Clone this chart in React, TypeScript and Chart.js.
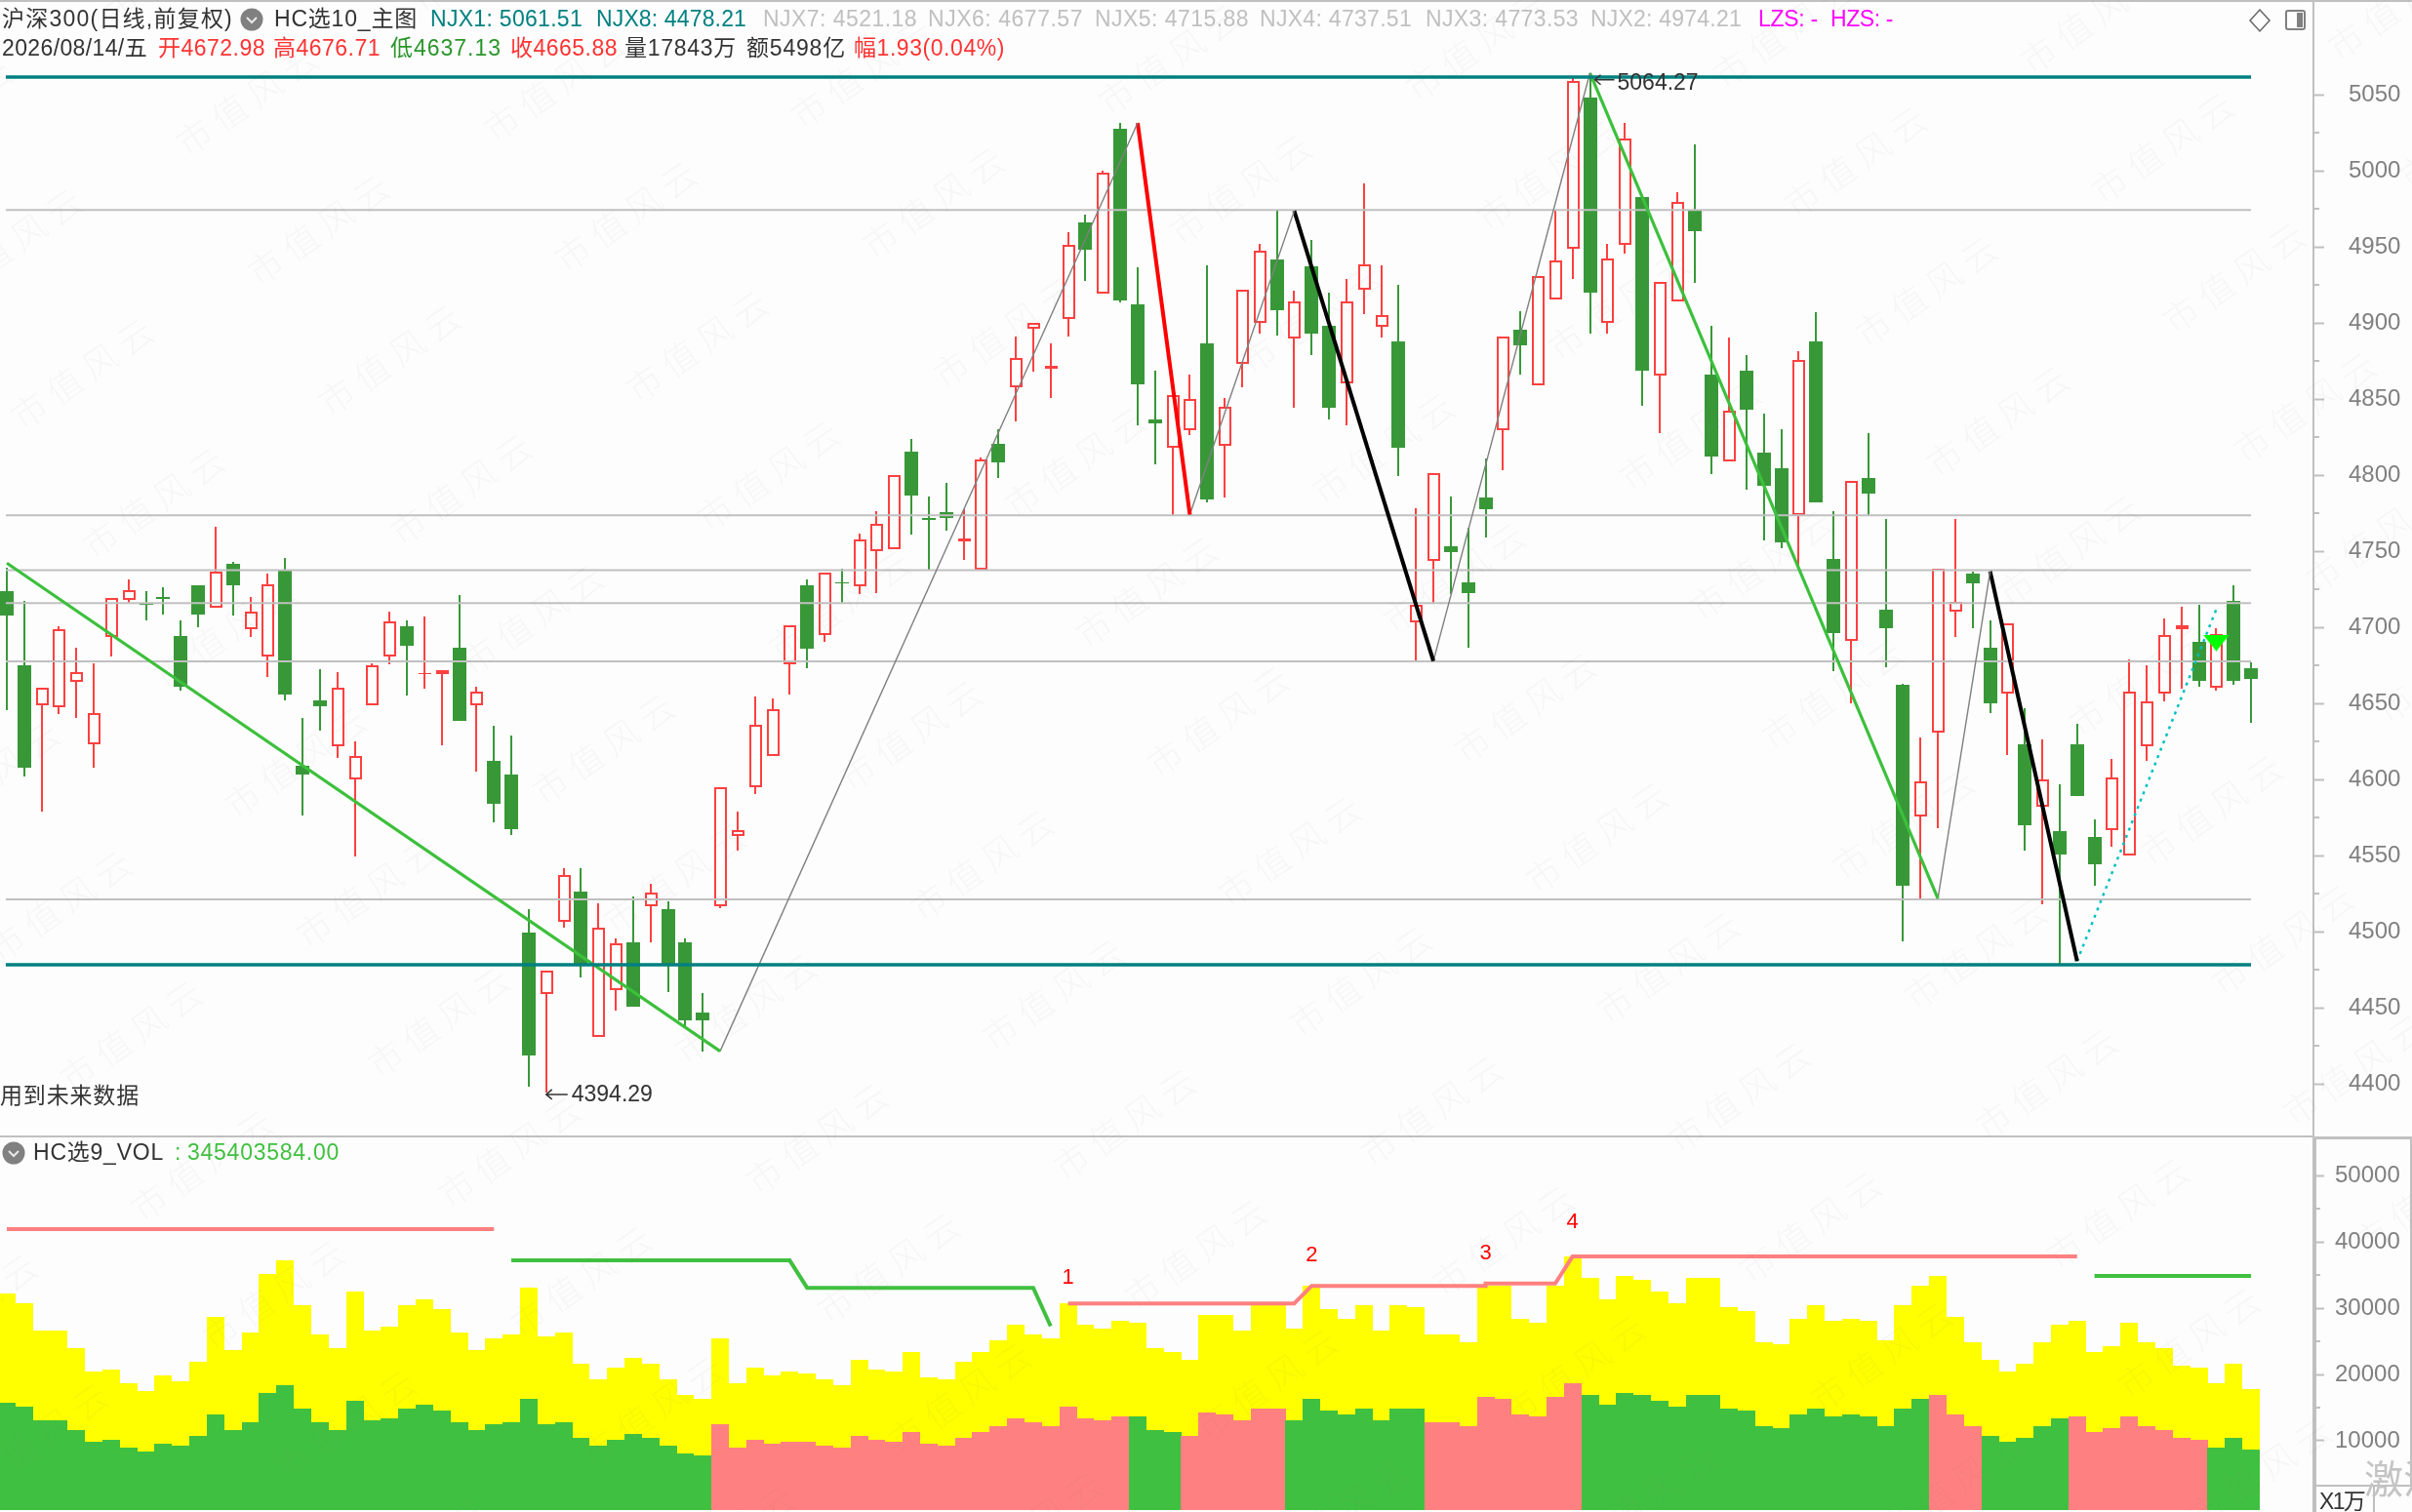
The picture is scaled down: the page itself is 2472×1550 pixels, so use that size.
import React, { useEffect, useRef } from 'react';
import { Chart, registerables } from 'chart.js';

Chart.register(...registerables);

const openPrices = [
  4723.9,4674.9,4648.5,4647.4,4664.1,4622.9,4693.6,4717.7,4715.8,4719.7,
  4694.4,4727.5,4712.7,4741.7,4698.8,4680.5,4736.9,4609.3,4651.9,4621.8,
  4599.9,4648.5,4680.5,4700.8,4669.1,4669.1,4686.6,4648.5,4612.1,4603.2,
  4499.5,4458.9,4506.5,4526.2,4430.8,4461.7,4492.8,4516.5,4514.8,4492.8,
  4446.7,4516.5,4562.6,4594.9,4615.4,4675.6,4727.6,4694.8,4729.8,4726.7,
  4749.8,4751.2,4815.7,4772.1,4775.7,4756.2,4737.9,4820.7,4857.7,4896.3,
  4870.2,4902.4,4965.8,4919.1,5027.5,4912.2,4836.6,4817.9,4829.3,4886.6,
  4819.0,4873.0,4899.7,4941.6,4889.7,4937.5,4898.0,4860.2,4921.6,4897.4,
  4887.7,4703.4,4743.4,4753.2,4729.8,4785.1,4829.3,4895.5,4858.8,4915.2,
  4948.6,5048.1,4899.9,4951.1,4982.5,4865.5,4914.1,4973.6,4866.0,4808.8,
  4868.5,4814.6,4804.6,4774.0,4887.7,4745.1,4690.9,4797.8,4711.8,4662.1,
  4575.4,4631.0,4710.0,4735.4,4686.5,4656.3,4623.4,4582.0,4566.1,4623.4,
  4562.0,4566.6,4549.8,4621.8,4656.3,4698.6,4690.3,4660.1,4717.1,4672.98,
];
const closePrices = [
  4707.5,4607.4,4660.5,4698.8,4670.8,4643.8,4719.4,4724.4,4715.0,4718.9,
  4661.0,4708.3,4736.4,4727.5,4710.5,4728.3,4655.8,4603.5,4648.2,4660.5,
  4615.7,4674.7,4703.8,4688.0,4669.9,4671.9,4638.2,4657.7,4584.3,4567.6,
  4418.9,4474.5,4537.3,4478.9,4502.6,4492.6,4450.9,4525.7,4478.9,4442.0,
  4442.0,4595.1,4566.8,4636.0,4646.3,4701.4,4685.6,4735.9,4729.0,4757.9,
  4767.9,4800.1,4786.5,4770.4,4771.8,4758.2,4810.4,4808.2,4876.9,4899.9,
  4872.1,4951.4,4948.3,4998.9,4914.7,4859.9,4834.3,4852.7,4850.2,4784.3,
  4844.9,4921.9,4947.5,4908.6,4914.1,4893.0,4844.3,4914.1,4938.6,4905.2,
  4817.7,4714.5,4801.3,4749.5,4722.3,4777.9,4891.0,4885.5,4930.8,4941.1,
  5059.2,4920.2,4942.5,5020.9,4868.8,4926.9,4979.5,4960.0,4812.4,4842.4,
  4843.2,4793.2,4755.9,4875.8,4781.8,4695.9,4796.2,4788.1,4699.6,4530.3,
  4598.8,4738.7,4716.9,4729.1,4649.7,4702.7,4570.1,4600.0,4550.8,4589.4,
  4544.5,4601.5,4657.8,4651.5,4695.1,4701.4,4664.9,4695.3,4664.9,4665.88,
];
const highPrices = [
  4738.9,4717.2,4660.5,4700.8,4686.6,4676.3,4719.4,4731.4,4723.9,4726.1,
  4704.4,4727.5,4766.1,4743.0,4720.0,4735.0,4745.5,4640.2,4672.2,4670.8,
  4624.9,4676.0,4710.5,4704.4,4706.9,4671.9,4721.1,4660.8,4635.2,4628.8,
  4514.5,4474.5,4541.5,4541.5,4518.7,4495.6,4523.4,4531.2,4519.8,4495.6,
  4459.8,4595.1,4578.7,4654.6,4653.3,4701.4,4731.2,4735.9,4738.7,4761.8,
  4776.2,4800.1,4823.5,4786.2,4795.1,4777.6,4811.8,4830.2,4891.3,4899.9,
  4886.6,4959.7,4971.1,5000.3,5031.4,4936.6,4868.5,4852.7,4866.0,4937.8,
  4850.5,4921.9,4951.9,4973.6,4921.1,4954.2,4920.0,4928.9,4991.7,4937.8,
  4925.0,4778.5,4801.3,4786.2,4765.1,4811.0,4891.0,4908.0,4930.8,4973.6,
  5061.2,5064.27,4951.9,5031.4,4982.5,4926.9,4986.1,5017.3,4898.0,4890.5,
  4878.8,4840.2,4829.9,4881.3,4906.9,4776.2,4796.2,4827.7,4771.1,4663.1,
  4627.7,4738.7,4770.9,4736.7,4704.5,4702.7,4646.7,4626.4,4596.8,4636.3,
  4573.7,4613.2,4678.6,4675.1,4705.5,4713.3,4714.9,4699.1,4727.3,4676.71,
];
const lowPrices = [
  4645.7,4602.1,4579.0,4643.2,4640.7,4607.4,4680.5,4716.1,4704.7,4708.3,
  4658.3,4699.7,4712.7,4707.5,4693.3,4667.4,4652.1,4576.5,4631.8,4613.8,
  4549.6,4648.5,4675.5,4654.9,4659.9,4622.7,4638.2,4604.9,4571.5,4563.7,
  4398.3,4394.29,4502.3,4470.0,4430.8,4448.4,4450.9,4493.1,4460.0,4437.2,
  4421.4,4515.1,4553.4,4590.7,4615.4,4656.1,4672.8,4690.6,4715.9,4721.5,
  4722.3,4751.2,4760.9,4737.9,4763.7,4744.3,4737.9,4797.9,4835.2,4867.7,
  4850.7,4890.8,4927.5,4919.1,4913.6,4832.9,4807.1,4774.0,4826.5,4781.8,
  4785.4,4857.4,4893.0,4891.6,4844.1,4879.1,4836.6,4832.9,4905.8,4890.5,
  4799.3,4677.8,4715.6,4722.0,4686.7,4758.7,4803.5,4866.3,4858.8,4915.2,
  4929.1,4893.0,4893.0,4945.8,4845.7,4827.9,4914.1,4926.4,4800.7,4808.8,
  4790.7,4757.3,4752.0,4740.1,4781.8,4671.4,4649.7,4773.4,4674.0,4493.3,
  4521.7,4567.8,4693.3,4699.6,4643.4,4616.3,4553.4,4517.9,4478.9,4589.4,
  4530.3,4555.9,4549.8,4612.4,4651.0,4659.8,4660.9,4658.6,4662.4,4637.13,
];

const tealLevels = [5061.51, 4478.21];
const grayLevels = [4974.21, 4773.53, 4737.51, 4715.88, 4677.57, 4521.18];

const zigzagIndex = [0, 41, 65, 68, 74, 82, 91, 111, 114, 119, 127];
const zigzagValue = [4742.2, 4421.4, 5031.4, 4774.0, 4973.6, 4677.8, 5064.27, 4521.7, 4736.7, 4480.6, 4711.8];

const signalIndex = [127];
const signalValue = [4689.7];

const priceTicks = [4400,4450,4500,4550,4600,4650,4700,4750,4800,4850,4900,4950,5000,5050];
const priceMinorTicks = [4425,4475,4525,4575,4625,4675,4725,4775,4825,4875,4925,4975,5025];
const volumeTicks = [10000,20000,30000,40000,50000];
const volumeMinorTicks = [15000,25000,35000,45000];

const volumeTotal = [
  32195,30722,26598,26598,23946,20411,20706,18644,17465,19822,
  18938,21884,28660,23652,26303,35141,37203,30428,26009,23946,
  32490,26598,27187,30428,31311,29838,26303,23652,25419,26009,
  33079,25714,26303,21590,19233,21000,22473,21590,19233,16876,
  16287,25419,18644,21000,19822,20411,20117,
  19233,18349,22179,20706,20411,23357,19527,19233,21884,23357,
  25125,27482,26009,25419,30722,27482,26892,28071,27776,23946,
  23357,22179,28955,28955,26598,30428,30428,26892,33374,29838,
  28365,30428,26598,30428,30133,26009,26009,24830,33374,33374,
  28365,27776,33374,37793,34552,31311,34847,
  34257,32490,30722,34552,34552,30133,29544,24830,24536,28365,
  30428,28071,28365,28071,25125,30428,33374,34847,28660,24830,
  22179,20411,21590,24830,27482,28071,23357,24241,27776,24830,
  23946,21295,21000,18644,21590,17760,
];
const volumeBase = [
  15698,15108,13046,13046,11573,9806,10100,8922,8333,9511,
  9216,10689,13930,11573,12752,17171,18349,14814,12752,11573,
  15992,13046,13341,14814,15403,14519,12752,11573,12457,12752,
  16287,12457,12752,10395,9216,10100,10984,10395,9216,8038,
  7743,12457,8922,10100,9511,9806,9806,
  9216,8922,10689,10100,9806,11279,9511,9216,10395,11279,
  12162,13341,12752,12162,15108,13341,13046,13635,13635,11573,
  11279,10689,14225,13930,13046,14814,14814,13046,16287,14519,
  13930,14814,13046,14814,14814,12752,12752,12162,16581,16287,
  13930,13635,16581,18644,16876,15403,17171,
  16876,15992,15108,16876,16876,14814,14519,12162,11868,13930,
  14814,13635,13930,13635,12162,14814,16287,16876,13930,12162,
  10689,9806,10395,12162,13341,13635,11279,11868,13635,12162,
  11573,10395,10100,8922,10395,8627,
];
const pinkRuns = [[41, 64], [68, 73], [82, 90], [111, 113], [119, 126]];

const volPinkA = { idx: [0, 28], val: [41917, 41917] };
const volGreenA = { idx: [29, 45, 46, 59, 60], val: [37203, 37203, 33079, 33079, 27285] };
const volPinkB = { idx: [61, 74, 75, 85, 85, 89, 90, 119], val: [30722, 30722, 33374, 33374, 33717, 33717, 37793, 37793] };
const volGreenB = { idx: [120, 129], val: [34847, 34847] };

const volNoteIndex = [61, 75, 85, 90];
const volNoteValue = [34650, 37891, 38235, 42899];
const volNoteText = ['1', '2', '3', '4'];

const RED = '#ff4040';
const GREEN = '#389838';
const AXIS = '#c0c0c0';
const TICK = '#808080';
const SANS = '"Liberation Sans", "Noto Sans CJK SC", sans-serif';

const xMin = -0.3926;
const xMax = 132.586;
const priceMax = 5112.2;
const priceMin = 4365.4;
const volMax = 55910;
const volMin = -456;

const snapPlugin = {
  id: 'snap',
  afterDatasetsUpdate(chart: any) {
    chart.data.datasets.forEach((ds: any, i: number) => {
      if (ds.type === 'line') return;
      chart.getDatasetMeta(i).data.forEach((el: any) => {
        el.x = Math.round(el.x) + (ds.snapHalf ? 0.5 : 0);
        el.y = Math.round(el.y);
        el.base = Math.round(el.base);
      });
    });
  },
};

function minorTicks(values: number[], len: number) {
  return {
    id: 'minorTicks',
    afterDraw(chart: any) {
      const ctx = chart.ctx;
      const s = chart.scales.y;
      ctx.save();
      ctx.strokeStyle = AXIS;
      ctx.lineWidth = 2;
      values.forEach((v) => {
        const y = Math.round(s.getPixelForValue(v));
        ctx.beginPath();
        ctx.moveTo(s.left, y);
        ctx.lineTo(s.left + len, y);
        ctx.stroke();
      });
      ctx.restore();
    },
  };
}

function arrow(ctx: CanvasRenderingContext2D, x: number, y: number, len: number) {
  ctx.beginPath();
  ctx.moveTo(x + len, y);
  ctx.lineTo(x, y);
  ctx.moveTo(x + 6, y - 5);
  ctx.lineTo(x, y);
  ctx.lineTo(x + 6, y + 5);
  ctx.stroke();
}

const priceNotes = {
  id: 'priceNotes',
  afterDatasetsDraw(chart: any) {
    const { ctx, scales } = chart;
    ctx.save();
    ctx.font = `23px ${SANS}`;
    ctx.fillStyle = '#333333';
    ctx.strokeStyle = '#333333';
    ctx.lineWidth = 1.5;
    ctx.textBaseline = 'middle';
    const lowY = scales.y.getPixelForValue(4394.29) + 2;
    const lowX = scales.x.getPixelForValue(31);
    arrow(ctx, lowX, lowY, 22);
    ctx.fillText('4394.29', lowX + 26, lowY + 1);
    const highY = scales.y.getPixelForValue(5064.27) + 11;
    const highX = scales.x.getPixelForValue(91);
    arrow(ctx, highX + 5, highY - 4, 20);
    ctx.fillText('5064.27', highX + 28, highY);
    ctx.restore();
  },
};

const volumeNotes = {
  id: 'volumeNotes',
  afterDatasetsDraw(chart: any) {
    const { ctx, scales } = chart;
    ctx.save();
    ctx.font = `22px ${SANS}`;
    ctx.fillStyle = '#ff0000';
    ctx.textAlign = 'center';
    ctx.textBaseline = 'middle';
    volNoteText.forEach((t, i) => {
      ctx.fillText(t, scales.x.getPixelForValue(volNoteIndex[i]), scales.y.getPixelForValue(volNoteValue[i]));
    });
    ctx.restore();
  },
};

const hollow = (i: number) => closePrices[i] >= openPrices[i];
const all = openPrices.map((_, i) => i);

function segment(idx: number[], val: number[], color: string, width: number, order: number, dash?: number[]) {
  return {
    type: 'line',
    data: idx.map((x, i) => ({ x, y: val[i] })),
    borderColor: color,
    borderWidth: width,
    borderDash: dash || [],
    pointRadius: 0,
    tension: 0,
    order,
  };
}

function barBase() {
  return {
    type: 'bar',
    grouped: false,
    borderSkipped: false,
    inflateAmount: 0,
  };
}

function axisX() {
  return { type: 'linear', display: false, min: xMin, max: xMax, offset: false, grid: { offset: false, display: false } };
}

function axisY(min: number, max: number, values: number[], tickLen: number, padding: number) {
  return {
    type: 'linear',
    position: 'right',
    min,
    max,
    beginAtZero: false,
    afterBuildTicks(s: any) {
      s.ticks = values.map((value) => ({ value }));
    },
    afterFit(s: any) {
      s.width = 101;
      s.paddingTop = 0;
      s.paddingBottom = 0;
      s.paddingLeft = 0;
      s.paddingRight = 0;
    },
    border: { display: false },
    grid: {
      drawOnChartArea: false,
      drawTicks: true,
      tickLength: tickLen,
      tickWidth: 2,
      tickColor: AXIS,
    },
    ticks: {
      autoSkip: false,
      padding,
      color: TICK,
      font: { family: 'Liberation Sans', size: 24 },
      callback: (v: any) => String(v),
    },
  };
}

function signalMarker() {
  const c = document.createElement('canvas');
  c.width = 27;
  c.height = 17;
  const g = c.getContext('2d') as CanvasRenderingContext2D;
  g.fillStyle = '#00ff00';
  g.beginPath();
  g.moveTo(0, 0);
  g.lineTo(27, 0);
  g.lineTo(13.5, 17);
  g.closePath();
  g.fill();
  return c;
}

function buildPrice(canvas: HTMLCanvasElement) {
  const red = all.filter(hollow);
  const green = all.filter((i) => !hollow(i));
  const upper = all.filter((i) => highPrices[i] > Math.max(openPrices[i], closePrices[i]));
  const lower = all.filter((i) => lowPrices[i] < Math.min(openPrices[i], closePrices[i]));
  const wickColor = (list: number[]) => list.map((i) => (hollow(i) ? RED : GREEN));

  const zigStyles: [string, number, number[]?][] = [
    ['#3cc03c', 3.2],
    ['#808080', 1.4],
    ['#ff0000', 4],
    ['#808080', 1.4],
    ['#000000', 4],
    ['#808080', 1.4],
    ['#3cc03c', 3.2],
    ['#808080', 1.4],
    ['#000000', 4],
    ['#00c0c0', 2.5, [3, 5]],
  ];

  const datasets: any[] = [
    {
      ...barBase(),
      data: upper.map((i) => ({ x: i, y: [Math.max(openPrices[i], closePrices[i]), highPrices[i]] })),
      backgroundColor: wickColor(upper),
      barThickness: 2,
      order: 12,
    },
    {
      ...barBase(),
      data: lower.map((i) => ({ x: i, y: [lowPrices[i], Math.min(openPrices[i], closePrices[i])] })),
      backgroundColor: wickColor(lower),
      barThickness: 2,
      order: 12,
    },
    {
      ...barBase(),
      data: green.map((i) => ({ x: i, y: [closePrices[i], openPrices[i]] })),
      backgroundColor: GREEN,
      barThickness: 14,
      order: 11,
    },
    {
      ...barBase(),
      snapHalf: true,
      data: red.map((i) => ({ x: i, y: [openPrices[i], closePrices[i]] })),
      backgroundColor: 'rgba(0,0,0,0)',
      borderColor: RED,
      borderWidth: 2,
      barThickness: 13,
      order: 11,
    },
    ...grayLevels.map((v) => segment([-0.06, 129], [v, v], AXIS, 2, 6)),
    ...zigStyles.map((s, k) =>
      segment(zigzagIndex.slice(k, k + 2), zigzagValue.slice(k, k + 2), s[0], s[1], 4, s[2])
    ),
    ...tealLevels.map((v) => segment([-0.06, 129], [v, v], '#008080', 3.5, 2)),
    {
      type: 'line',
      data: signalIndex.map((x, i) => ({ x, y: signalValue[i] })),
      showLine: false,
      pointStyle: signalMarker(),
      pointRadius: 14,
      order: 1,
    },
  ];

  return new Chart(canvas, {
    type: 'bar',
    data: { datasets },
    options: {
      responsive: false,
      animation: false,
      devicePixelRatio: 1,
      events: [],
      layout: { autoPadding: false, padding: 0 },
      plugins: { legend: { display: false }, tooltip: { enabled: false } },
      scales: { x: axisX(), y: axisY(priceMin, priceMax, priceTicks, 11, 25) },
    } as any,
    plugins: [snapPlugin, minorTicks(priceMinorTicks, 6), priceNotes] as any,
  } as any);
}

function buildVolume(canvas: HTMLCanvasElement) {
  const isPink = (i: number) => pinkRuns.some((r) => i >= r[0] && i <= r[1]);
  const datasets: any[] = [
    {
      ...barBase(),
      data: volumeTotal.map((v, i) => ({ x: i, y: v })),
      base: volMin,
      backgroundColor: '#ffff00',
      barThickness: 18,
      order: 10,
    },
    {
      ...barBase(),
      data: volumeBase.map((v, i) => ({ x: i, y: v })),
      base: volMin,
      backgroundColor: volumeBase.map((_, i) => (isPink(i) ? '#ff8080' : '#40c040')),
      barThickness: 18,
      order: 9,
    },
    segment(volPinkA.idx, volPinkA.val, '#ff8080', 4, 2),
    segment(volGreenA.idx, volGreenA.val, '#40c040', 4, 2),
    segment(volPinkB.idx, volPinkB.val, '#ff8080', 4, 2),
    segment(volGreenB.idx, volGreenB.val, '#40c040', 4, 2),
  ];
  return new Chart(canvas, {
    type: 'bar',
    data: { datasets },
    options: {
      responsive: false,
      animation: false,
      devicePixelRatio: 1,
      events: [],
      layout: { autoPadding: false, padding: { left: 0, right: 0, top: 0, bottom: 2 } },
      plugins: { legend: { display: false }, tooltip: { enabled: false } },
      scales: { x: axisX(), y: axisY(volMin, volMax, volumeTicks, 11, 11) },
    } as any,
    plugins: [snapPlugin, minorTicks(volumeMinorTicks, 7), volumeNotes] as any,
  } as any);
}

const measure = document.createElement('canvas').getContext('2d') as CanvasRenderingContext2D;

function Label(p: { t: string; x: number; w?: number; y: number; c: string; size?: number }) {
  const size = p.size || 23;
  measure.font = `${size}px ${SANS}`;
  const natural = measure.measureText(p.t).width;
  const ls = p.w ? (p.w - natural) / p.t.length : 0;
  return (
    <div
      style={{
        position: 'absolute',
        left: p.x,
        top: p.y,
        transform: 'translateY(-50%)',
        font: `${size}px ${SANS}`,
        letterSpacing: ls,
        color: p.c,
        whiteSpace: 'pre',
        lineHeight: 1.2,
      }}
    >
      {p.t}
    </div>
  );
}

function Dot(p: { x: number; y: number }) {
  return (
    <svg style={{ position: 'absolute', left: p.x - 12, top: p.y - 12 }} width={24} height={24}>
      <circle cx={12} cy={12} r={11.5} fill="#808080" />
      <path d="M7 10 L12 15 L17 10" stroke="#e8e8e8" strokeWidth={2} fill="none" />
    </svg>
  );
}

const headerRow1: [string, number, number, string][] = [
  ['沪深300(日线,前复权)', 2, 237, '#333333'],
  ['HC选10_主图', 281, 147, '#333333'],
  ['NJX1: 5061.51', 441, 156, '#008080'],
  ['NJX8: 4478.21', 611, 154, '#008080'],
  ['NJX7: 4521.18', 782, 158, '#c0c0c0'],
  ['NJX6: 4677.57', 951, 159, '#c0c0c0'],
  ['NJX5: 4715.88', 1122, 158, '#c0c0c0'],
  ['NJX4: 4737.51', 1291, 156, '#c0c0c0'],
  ['NJX3: 4773.53', 1461, 157, '#c0c0c0'],
  ['NJX2: 4974.21', 1630, 155, '#c0c0c0'],
  ['LZS: -', 1802, 61, '#ff00ff'],
  ['HZS: -', 1876, 64, '#ff00ff'],
];
const headerRow2: [string, number, number, string][] = [
  ['2026/08/14/五', 2, 149, '#333333'],
  ['开4672.98', 162, 110, '#ff3333'],
  ['高4676.71', 280, 110, '#ff3333'],
  ['低4637.13', 400, 114, '#2a962a'],
  ['收4665.88', 523, 110, '#ff3333'],
  ['量17843万', 640, 115, '#333333'],
  ['额5498亿', 765, 102, '#333333'],
  ['幅1.93(0.04%)', 875, 155, '#ff3333'],
];

function Watermarks() {
  const items: React.ReactNode[] = [];
  for (let m = -10; m <= 14; m++) {
    for (let n = -9; n <= 9; n++) {
      const x = 936 + 73 * m + 315 * n;
      const y = 907 + 133 * m - 14 * n;
      if (x < -200 || x > 2500 || y < -120 || y > 1640) continue;
      items.push(
        <div
          key={`${m}_${n}`}
          style={{
            position: 'absolute',
            left: x,
            top: y,
            transform: 'rotate(-35deg)',
            transformOrigin: '0 50%',
            font: `300 36px "Noto Sans CJK SC"`,
            letterSpacing: 8,
            color: 'rgba(110,110,110,0.05)',
            whiteSpace: 'pre',
          }}
        >
          市值风云
        </div>
      );
    }
  }
  return <>{items}</>;
}

export default function App() {
  const priceRef = useRef<HTMLCanvasElement>(null);
  const volRef = useRef<HTMLCanvasElement>(null);

  useEffect(() => {
    const a = buildPrice(priceRef.current as HTMLCanvasElement);
    const b = buildVolume(volRef.current as HTMLCanvasElement);
    return () => {
      a.destroy();
      b.destroy();
    };
  }, []);

  const line = (left: number, top: number, width: number, height: number) => (
    <div style={{ position: 'absolute', left, top, width, height, background: AXIS }} />
  );

  return (
    <div style={{ position: 'fixed', left: 0, top: 0, width: 2472, height: 1550, overflow: 'hidden', background: '#fdfdfd' }}>
      <canvas ref={priceRef} width={2472} height={1165} style={{ position: 'absolute', left: 0, top: 0, display: 'block' }} />
      <canvas ref={volRef} width={2472} height={385} style={{ position: 'absolute', left: 0, top: 1165, display: 'block' }} />

      {line(0, 0, 2472, 2)}
      {line(2370, 0, 2, 1165)}
      {line(0, 1164, 2372, 2)}
      {line(2370, 1165, 102, 3)}
      {line(2370, 1165, 4, 385)}
      {line(2470, 1165, 2, 357)}
      {line(2374, 1522, 98, 2)}
      {line(2432, 1522, 2, 28)}

      {headerRow1.map(([t, x, w, c]) => <Label key={t} t={t} x={x} w={w} y={20} c={c} />)}
      {headerRow2.map(([t, x, w, c]) => <Label key={t} t={t} x={x} w={w} y={50} c={c} />)}
      <Dot x={258} y={20} />
      <Dot x={14} y={1182} />
      <svg style={{ position: 'absolute', left: 2304, top: 8 }} width={64} height={26}>
        <path d="M12 2 L22 13 L12 24 L2 13 Z" fill="none" stroke="#666666" strokeWidth={1.5} />
        <rect x={39} y={3} width={19} height={19} rx={2} fill="none" stroke="#808080" strokeWidth={2} />
        <rect x={50} y={5} width={6} height={15} fill="#808080" />
      </svg>

      <Label t="用到未来数据" x={0} w={143} y={1124} c="#333333" />
      <Label t="HC选9_VOL" x={34} w={134} y={1182} c="#333333" />
      <Label t=":" x={179} y={1182} c="#40c040" />
      <Label t="345403584.00" x={192} w={156} y={1182} c="#40c040" />
      <Label t="X1万" x={2377} w={46} y={1540} c="#333333" />
      <Label t="激活" x={2423} y={1517} c="#c4c4c4" size={40} />

      <div style={{ position: 'absolute', inset: 0, pointerEvents: 'none' }}>
        <Watermarks />
      </div>
    </div>
  );
}
